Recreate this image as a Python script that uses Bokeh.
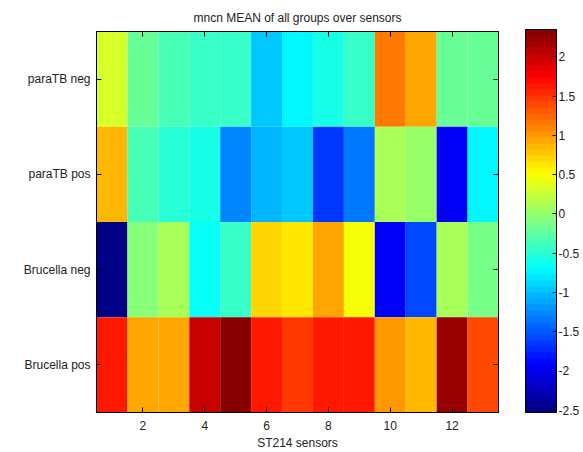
from bokeh.plotting import figure
from bokeh.models import (LinearColorMapper, ColorBar, FixedTicker, LinearAxis,
                          CategoricalAxis, CustomJSTickFormatter, ColumnDataSource,
                          Range1d, FactorRange)
from bokeh.embed import file_html
from bokeh.resources import INLINE

# Groups (top to bottom) and sensor indices
groups = ["paraTB neg", "paraTB pos", "Brucella neg", "Brucella pos"]
sensors = list(range(1, 14))

# Mean normalised response per group, one value per sensor
paratb_neg = [0.30, -0.22, -0.33, -0.42, -0.45, -0.95, -0.77, -0.62, -0.42, 1.13, 0.94, -0.20, -0.18]
paratb_pos = [0.86, -0.33, -0.50, -0.57, -1.24, -1.08, -1.00, -1.69, -1.31, 0.07, 0.04, -1.99, -0.75]
brucella_neg = [-2.53, -0.09, 0.07, -0.70, -0.45, 0.70, 0.60, 0.93, 0.45, -1.92, -1.55, 0.07, -0.10]
brucella_pos = [1.63, 0.93, 0.93, 1.98, 2.35, 1.59, 1.44, 1.63, 1.63, 1.01, 0.84, 2.20, 1.36]

colorbar_ticks = [-2.5, -2, -1.5, -1, -0.5, 0, 0.5, 1, 1.5, 2]
x_ticks = [2, 4, 6, 8, 10, 12]

FONT = "Liberation Sans"


def jet(n):
    """Classic jet colormap with n entries."""
    cols = []
    for i in range(n):
        t = (i + 0.5) / n
        r = min(max(min(4 * t - 1.5, -4 * t + 4.5), 0), 1)
        g = min(max(min(4 * t - 0.5, -4 * t + 3.5), 0), 1)
        b = min(max(min(4 * t + 0.5, -4 * t + 2.5), 0), 1)
        cols.append("#%02x%02x%02x" % (round(r * 255), round(g * 255), round(b * 255)))
    return cols


rows = [paratb_neg, paratb_pos, brucella_neg, brucella_pos]
xs, ys, vs = [], [], []
for name, row in zip(groups, rows):
    for s, v in zip(sensors, row):
        xs.append(s)
        ys.append(name)
        vs.append(v)
src = ColumnDataSource(dict(x=xs, y=ys, v=vs))

all_vals = [v for r in rows for v in r]
mapper = LinearColorMapper(palette=jet(64), low=min(all_vals), high=max(all_vals))

p = figure(width=583, height=452, output_backend="svg", toolbar_location=None,
           x_range=Range1d(0.5, 13.5), y_range=FactorRange(*reversed(groups)),
           x_axis_label="ST214 sensors",
           min_border_left=96, min_border_right=85, min_border_top=31,
           min_border_bottom=38)
p.rect(x="x", y="y", width=1, height=1, source=src,
       fill_color={"field": "v", "transform": mapper}, line_color=None)

p.grid.visible = False
p.background_fill_color = "white"
p.border_fill_color = "white"
p.outline_line_color = "black"
p.outline_line_width = 1

p.title.text = "mncn MEAN of all groups over sensors"
p.title.align = "center"
p.title.text_font = FONT
p.title.text_font_size = "12px"
p.title.text_font_style = "normal"
p.title.text_color = "#222222"
p.title.standoff = 14


def style_axis(ax):
    ax.axis_line_color = "black"
    ax.major_tick_line_color = "black"
    ax.major_tick_in = 5
    ax.major_tick_out = 0
    ax.minor_tick_line_color = None
    ax.major_label_text_font = FONT
    ax.major_label_text_font_size = "12px"
    ax.major_label_text_color = "#222222"


xa = p.xaxis[0]
xa.ticker = FixedTicker(ticks=x_ticks)
style_axis(xa)
xa.major_label_standoff = 8
xa.axis_label_text_font = FONT
xa.axis_label_text_font_size = "12px"
xa.axis_label_text_font_style = "normal"
xa.axis_label_text_color = "#222222"
xa.axis_label_standoff = 3

ya = p.yaxis[0]
style_axis(ya)
ya.major_label_standoff = 6

# Box ticks on the top and right edges (no labels)
top = LinearAxis(ticker=FixedTicker(ticks=x_ticks),
                 formatter=CustomJSTickFormatter(code="return ''"))
style_axis(top)
top.major_label_standoff = 0
p.add_layout(top, "above")

right = CategoricalAxis(formatter=CustomJSTickFormatter(code="return ''"))
style_axis(right)
right.major_label_standoff = 0
p.add_layout(right, "right")

# Colour scale bar to the right of the frame
cb = ColorBar(color_mapper=mapper, width=31, height=383, location=(429, 0),
              ticker=FixedTicker(ticks=colorbar_ticks),
              formatter=CustomJSTickFormatter(code="return tick.toString()"),
              major_label_text_font=FONT, major_label_text_font_size="12px",
              major_label_text_color="#222222",
              major_tick_line_color="black", major_tick_in=4, major_tick_out=0,
              minor_tick_line_color=None, bar_line_color="black",
              label_standoff=2, padding=0, margin=0,
              background_fill_color=None, border_line_color=None)
p.add_layout(cb)

open("out.html", "w").write(file_html(p, INLINE))
